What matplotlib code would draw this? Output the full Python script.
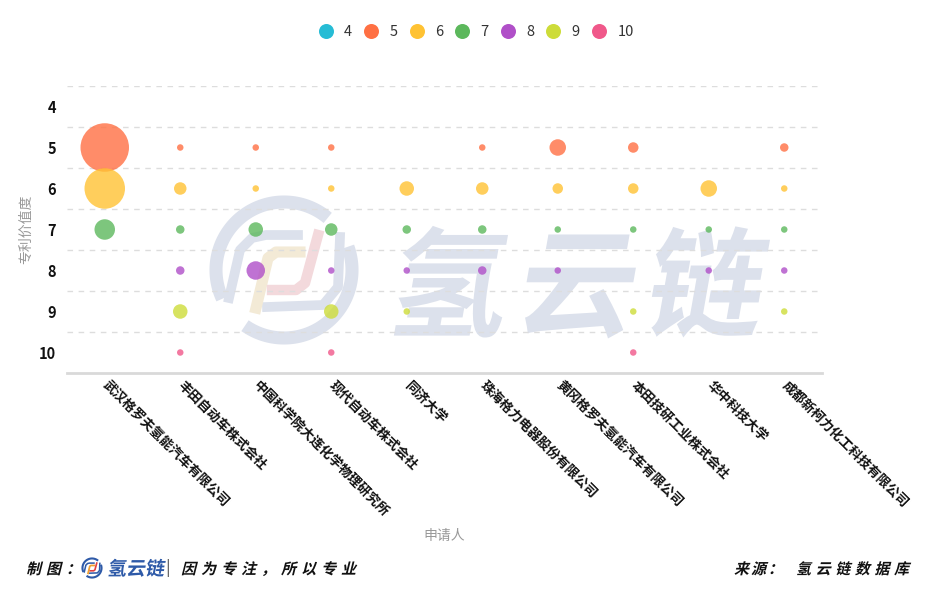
import numpy as np
import matplotlib
matplotlib.use('Agg')
import matplotlib.pyplot as plt
from matplotlib.lines import Line2D
from matplotlib.textpath import TextPath
from matplotlib.patches import PathPatch
from matplotlib.font_manager import FontProperties
from matplotlib.transforms import Affine2D, ScaledTranslation

plt.rcParams['font.family'] = ['Noto Sans CJK SC', 'DejaVu Sans']

applicants = ['武汉格罗夫氢能汽车有限公司', '丰田自动车株式会社', '中国科学院大连化学物理研究所',
              '现代自动车株式会社', '同济大学', '珠海格力电器股份有限公司', '黄冈格罗夫氢能汽车有限公司',
              '本田技研工业株式会社', '华中科技大学', '成都新柯力化工科技有限公司']
levels = [4, 5, 6, 7, 8, 9, 10]
level_colors = ['#26BCD5', '#FF7043', '#FFC233', '#5CB85C', '#B04FC8', '#CDDC39', '#F0588A']

# 专利数量，每行一个价值度，每列一个申请人
counts_4 = [0, 0, 0, 0, 0, 0, 0, 0, 0, 0]
counts_5 = [22, 1, 1, 1, 0, 1, 6, 3, 0, 2]
counts_6 = [18, 4, 1, 1, 5, 4, 3, 3, 6, 1]
counts_7 = [8, 2, 5, 4, 2, 2, 1, 1, 1, 1]
counts_8 = [0, 2, 7, 1, 1, 2, 1, 0, 1, 1]
counts_9 = [0, 5, 0, 5, 1, 0, 0, 1, 0, 1]
counts_10 = [0, 1, 0, 1, 0, 0, 0, 1, 0, 0]
counts = [counts_4, counts_5, counts_6, counts_7, counts_8, counts_9, counts_10]

W, H = 949, 596
fig = plt.figure(figsize=(W / 100, H / 100), dpi=100)

# 背景层（水印 + 页脚），像素坐标
bg = fig.add_axes([0, 0, 1, 1], zorder=-1)
bg.set_xlim(0, W)
bg.set_ylim(H, 0)
bg.axis('off')


def skew_text(x, y, s, size, color, advance, skew=12, weight='bold'):
    fp = FontProperties(family='Noto Sans CJK SC', weight=weight)
    for i, ch in enumerate(s):
        tp = TextPath((0, 0), ch, size=size, prop=fp)
        tr = Affine2D().skew_deg(skew, 0).scale(1, -1).translate(x + i * advance, y)
        bg.add_patch(PathPatch(tr.transform_path(tp), fc=color, ec='none', lw=0))


def arc(cx, cy, r, a0, a1, lw, color):
    t = np.radians(np.linspace(a0, a1, 80))
    bg.plot(cx + r * np.cos(t), cy - r * np.sin(t), lw=lw, color=color, solid_capstyle='butt')


def logo(cx, cy, k, ring, c1, c2, lwk):
    arc(cx, cy, 68 * k, 50, 205, 9.4 * lwk, ring)
    arc(cx, cy, 68 * k, 235, 380, 9.4 * lwk, ring)
    pts = np.array([(-55, 28), (-44, -20), (-32, -32), (-18, -35), (14, -35)])
    bg.plot(cx + pts[:, 0] * k, cy + pts[:, 1] * k, lw=7 * lwk, color=ring, solid_joinstyle='round')
    pts = np.array([(56, -33), (54, 17), (39, 35), (-17, 37)])
    bg.plot(cx + pts[:, 0] * k, cy + pts[:, 1] * k, lw=7 * lwk, color=ring, solid_joinstyle='round')
    pts = np.array([(-28, 38), (-16, -12), (-8, -18), (16, -18)])
    bg.plot(cx + pts[:, 0] * k, cy + pts[:, 1] * k, lw=8 * lwk, color=c1, solid_joinstyle='round')
    pts = np.array([(34, -35), (21, 13), (12, 20), (-12, 20)])
    bg.plot(cx + pts[:, 0] * k, cy + pts[:, 1] * k, lw=7.5 * lwk, color=c2, solid_joinstyle='round')


# 水印
logo(284, 270, 1.0, '#DCE1EC', '#F3EAD6', '#F3D9DC', 1.0)
skew_text(385, 327, '氢云链', 118, '#DCE1EC', 128, skew=10, weight='heavy')

# 页脚
skew_text(26, 574, '制图：', 15, '#111111', 20, skew=14, weight='heavy')
logo(92, 568, 0.14, '#2E5AA8', '#F0A030', '#E04040', 0.16)
skew_text(107, 575, '氢云链', 19, '#2E5AA8', 19, skew=10, weight='heavy')
bg.text(168, 568, '|', fontsize=12, color='#555555', ha='center', va='center')
skew_text(181, 574, '因为专注，所以专业', 15, '#111111', 20, skew=14, weight='heavy')
skew_text(734, 574, '来源：', 15, '#111111', 17, skew=14, weight='heavy')
skew_text(796, 574, '氢云链数据库', 15, '#111111', 19.6, skew=14, weight='heavy')

# 主图
ax = fig.add_axes([67 / W, 1 - 373 / H, 755 / W, 287 / H])
ax.set_facecolor('none')
x = np.arange(len(applicants))
for lv, col, row in zip(levels, level_colors, counts):
    vals = np.array(row)
    m = vals > 0
    diam = 4.5 + 2 * vals[m]
    ax.scatter(x[m], np.full(m.sum(), lv), s=(diam * 0.72) ** 2, color=col,
               alpha=0.8, linewidths=0, zorder=3)

ax.set_xlim(-0.5, len(applicants) - 0.5)
ax.set_ylim(10.5, 3.5)
ax.set_yticks(levels)
ax.set_yticklabels([str(v) for v in levels], fontsize=10.5, fontweight='bold', color='#111111')
ax.set_yticks(np.arange(3.5, 10.5, 1), minor=True)
ax.grid(which='minor', axis='y', color='#DDDDDD', ls=(0, (4, 4)), lw=1)
ax.set_xticks(x)
ax.set_xticklabels([])
lab_tr = ax.get_xaxis_transform() + ScaledTranslation(5 / 100, -5 / 100, fig.dpi_scale_trans)
for xi, name in zip(x, applicants):
    ax.text(xi, 0, name, transform=lab_tr, rotation=-45, ha='left', va='top',
            rotation_mode='anchor', fontsize=9.5, fontweight='bold', color='#111111')
ax.tick_params(which='both', length=0)
ax.tick_params(axis='y', pad=8)
for s in ['top', 'left', 'right']:
    ax.spines[s].set_visible(False)
ax.spines['bottom'].set_color('#D9D9D9')
ax.spines['bottom'].set_linewidth(2)

ax.set_ylabel('专利价值度', fontsize=10, color='#999999')
ax.yaxis.set_label_coords(-0.045, 0.5)
ax.set_xlabel('申请人', fontsize=10, color='#999999')
ax.xaxis.set_label_coords(0.5, -0.545)

handles = [Line2D([], [], marker='o', ls='', markersize=10.8, color=c, markeredgewidth=0)
           for c in level_colors]
fig.legend(handles, [str(v) for v in levels], loc='center', bbox_to_anchor=(476 / W, 1 - 32 / H),
           ncol=7, frameon=False, handlelength=1.0, handletextpad=0.75, columnspacing=0.82,
           fontsize=10.5, labelcolor='#333333')

fig.savefig('out.png', dpi=100)
